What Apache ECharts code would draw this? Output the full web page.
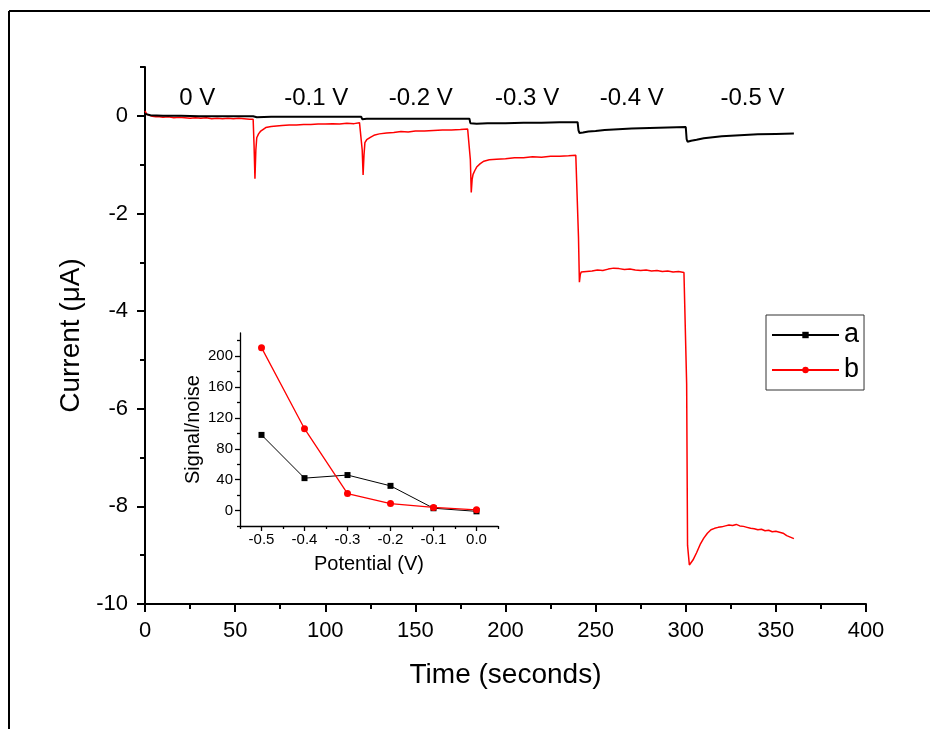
<!DOCTYPE html>
<html>
<head>
<meta charset="utf-8">
<script src="https://cdn.jsdelivr.net/npm/echarts@6/dist/echarts.min.js"></script>
<style>
html,body{margin:0;padding:0;background:#fff;}
#c{width:930px;height:729px;}
</style>
</head>
<body>
<div id="c"></div>
<script>
// ---- main chart data (time in s, current in µA) ----
const timeA = [0,1,3,10,20,30,40,50,60,60.5,61,62,70,80,90,100,110,120,120.5,121,123,130,140,150,160,170,180,180.5,181,184,190,200,210,220,230,240,240.5,241,243,246,250,255,260,270,280,290,300,300.5,301,303,306,310,315,320,330,340,350,360];
const currA = [0.04,0.02,0.01,0.0,0.0,-0.01,-0.01,-0.01,-0.01,-0.04,-0.05,-0.03,-0.02,-0.02,-0.02,-0.02,-0.02,-0.02,-0.07,-0.08,-0.06,-0.06,-0.06,-0.06,-0.06,-0.06,-0.06,-0.15,-0.17,-0.16,-0.15,-0.15,-0.14,-0.14,-0.13,-0.13,-0.30,-0.35,-0.34,-0.32,-0.31,-0.29,-0.28,-0.26,-0.25,-0.24,-0.23,-0.48,-0.53,-0.51,-0.49,-0.46,-0.44,-0.42,-0.40,-0.38,-0.37,-0.36];

const timeB = [0,0.5,1,2,4,6,8,10,13,16,19,22,25,28,31,34,37,40,43,46,49,52,55,58,60,
  60.5,61,61.5,62,63,64,65,67,70,73,76,80,84,88,92,96,100,104,108,112,116,119,120,
  120.5,121,121.5,122,123,125,127,130,134,138,142,146,150,155,160,165,170,175,179,180,
  180.5,181,181.5,182,183,184,186,188,191,195,200,205,210,215,220,225,230,235,239,240,
  240.5,241,241.5,242,245,248,251,254,257,260,263,266,269,272,275,278,281,284,287,290,293,296,299,300,
  300.5,301,302,303,304,306,308,310,312,314,316,318,320,322,324,326,328,330,332,334,336,338,340,342,344,346,348,350,352,354,355,356,357,358,360];
const currB = [0.1,0.08,0.03,0.0,-0.01,-0.02,-0.02,-0.03,-0.02,-0.04,-0.03,-0.04,-0.05,-0.04,-0.05,-0.04,-0.06,-0.05,-0.06,-0.05,-0.06,-0.05,-0.06,-0.07,-0.07,
  -0.6,-1.29,-0.7,-0.45,-0.37,-0.32,-0.28,-0.24,-0.22,-0.21,-0.2,-0.19,-0.19,-0.18,-0.18,-0.17,-0.17,-0.16,-0.17,-0.15,-0.16,-0.14,-0.15,
  -0.7,-1.21,-0.8,-0.55,-0.49,-0.44,-0.4,-0.37,-0.35,-0.34,-0.32,-0.33,-0.31,-0.31,-0.30,-0.29,-0.29,-0.28,-0.27,-0.27,
  -0.9,-1.57,-1.3,-1.2,-1.12,-1.05,-0.98,-0.93,-0.9,-0.89,-0.88,-0.86,-0.86,-0.84,-0.85,-0.83,-0.83,-0.82,-0.81,-0.82,
  -2.5,-3.41,-3.25,-3.2,-3.19,-3.18,-3.16,-3.17,-3.14,-3.12,-3.13,-3.15,-3.14,-3.16,-3.17,-3.16,-3.18,-3.17,-3.19,-3.18,-3.20,-3.19,-3.21,-3.20,
  -5.5,-8.8,-9.2,-9.22,-9.1,-8.95,-8.78,-8.65,-8.55,-8.48,-8.45,-8.43,-8.42,-8.40,-8.38,-8.39,-8.37,-8.40,-8.41,-8.43,-8.45,-8.46,-8.48,-8.47,-8.50,-8.49,-8.52,-8.51,-8.53,-8.55,-8.53,-8.60,-8.58,-8.63,-8.66];

// ---- step annotations ----
const stepLabels = ['0 V','-0.1 V','-0.2 V','-0.3 V','-0.4 V','-0.5 V'];
const stepLabelX = [29, 95, 153, 212, 270, 337];
const stepLabelY = 0.35;

// ---- main axis ticks ----
const mainYMajor = [-10,-8,-6,-4,-2,0];
const mainYMinor = [-9,-7,-5,-3,-1,1];

// ---- inset data ----
const potential = [-0.5,-0.4,-0.3,-0.2,-0.1,0.0];
const snA = [98,42,46,32,3,-1];
const snB = [211,106,22,9,4,1];
const insetYMajor = [0,40,80,120,160,200];
const insetYMinor = [-20,20,60,100,140,180,220];
const insetXMajor = [-0.5,-0.4,-0.3,-0.2,-0.1,0.0];
const insetXMinor = [-0.55,-0.45,-0.35,-0.25,-0.15,-0.05,0.05];

const zip = (xs, ys) => xs.map((x, i) => [x, ys[i]]);
const FONT = 'Liberation Sans';

const chart = echarts.init(document.getElementById('c'), null, {renderer: 'canvas'});
const axisLine = {show: true, onZero: false, lineStyle: {color: '#000', width: 2}};
const insetLine = {show: true, onZero: false, lineStyle: {color: '#000', width: 1.3}};

chart.setOption({
  backgroundColor: '#fff',
  animation: false,
  textStyle: {fontFamily: FONT},
  grid: [
    {left: 145, right: 64, top: 67, bottom: 125},
    {left: 240, right: 432, top: 333, bottom: 203}
  ],
  legend: {
    data: ['a', 'b'],
    orient: 'vertical',
    left: 766, top: 315,
    padding: [5, 5, 5, 5],
    itemGap: 5,
    itemWidth: 67, itemHeight: 8,
    borderColor: '#333', borderWidth: 1,
    textStyle: {fontFamily: FONT, fontSize: 27, color: '#000', lineHeight: 30},
    selectedMode: false
  },
  xAxis: [
    {gridIndex: 0, type: 'value', min: 0, max: 400, interval: 50, position: 'bottom',
     axisLine: axisLine,
     axisTick: {show: true, length: 8, inside: false, lineStyle: {width: 2, color: '#000'}},
     minorTick: {show: true, splitNumber: 2, length: 5, lineStyle: {width: 2, color: '#000'}},
     splitLine: {show: false},
     axisLabel: {fontSize: 22, color: '#000', margin: 16, fontFamily: FONT},
     name: 'Time (seconds)', nameLocation: 'middle', nameGap: 57,
     nameTextStyle: {fontSize: 28, color: '#000', fontFamily: FONT}},
    {gridIndex: 1, type: 'value', min: -0.55, max: 0.05, position: 'bottom',
     axisLine: insetLine,
     axisTick: {show: true, length: 5, customValues: insetXMajor, lineStyle: {width: 1.3, color: '#000'}},
     splitLine: {show: false},
     axisLabel: {fontSize: 15, color: '#000', margin: 6, customValues: insetXMajor, fontFamily: FONT,
                 formatter: v => v.toFixed(1)},
     name: 'Potential (V)', nameLocation: 'middle', nameGap: 28,
     nameTextStyle: {fontSize: 20, color: '#000', fontFamily: FONT}},
    {gridIndex: 1, type: 'value', min: -0.55, max: 0.05, position: 'bottom',
     axisLine: {show: false, onZero: false},
     axisTick: {show: true, length: 3, customValues: insetXMinor, lineStyle: {width: 1.3, color: '#000'}},
     splitLine: {show: false}, axisLabel: {show: false}}
  ],
  yAxis: [
    {gridIndex: 0, type: 'value', min: -10, max: 1, position: 'left',
     axisLine: axisLine,
     axisTick: {show: true, length: 8, customValues: mainYMajor, lineStyle: {width: 2, color: '#000'}},
     splitLine: {show: false},
     axisLabel: {fontSize: 22, color: '#000', margin: 17, customValues: mainYMajor, fontFamily: FONT},
     name: 'Current (\u03bcA)', nameLocation: 'middle', nameGap: 60,
     nameTextStyle: {fontSize: 28, color: '#000', fontFamily: FONT}},
    {gridIndex: 0, type: 'value', min: -10, max: 1, position: 'left',
     axisLine: {show: false, onZero: false},
     axisTick: {show: true, length: 5, customValues: mainYMinor, lineStyle: {width: 2, color: '#000'}},
     splitLine: {show: false}, axisLabel: {show: false}},
    {gridIndex: 1, type: 'value', min: -20, max: 230, position: 'left',
     axisLine: insetLine,
     axisTick: {show: true, length: 5, customValues: insetYMajor, lineStyle: {width: 1.3, color: '#000'}},
     splitLine: {show: false},
     axisLabel: {fontSize: 15, color: '#000', margin: 7, customValues: insetYMajor, fontFamily: FONT},
     name: 'Signal/noise', nameLocation: 'middle', nameGap: 37,
     nameTextStyle: {fontSize: 20, color: '#000', fontFamily: FONT}},
    {gridIndex: 1, type: 'value', min: -20, max: 230, position: 'left',
     axisLine: {show: false, onZero: false},
     axisTick: {show: true, length: 3, customValues: insetYMinor, lineStyle: {width: 1.3, color: '#000'}},
     splitLine: {show: false}, axisLabel: {show: false}}
  ],
  graphic: [
    {type: 'line', shape: {x1: 9, y1: 11, x2: 930, y2: 11}, style: {stroke: '#000', lineWidth: 2}},
    {type: 'line', shape: {x1: 9, y1: 11, x2: 9, y2: 729}, style: {stroke: '#000', lineWidth: 2}}
  ],
  series: [
    {name: 'curve a', type: 'line', xAxisIndex: 0, yAxisIndex: 0, data: zip(timeA, currA),
     showSymbol: false, lineStyle: {color: '#000', width: 2}, itemStyle: {color: '#000'}, z: 3, silent: true},
    {name: 'curve b', type: 'line', xAxisIndex: 0, yAxisIndex: 0, data: zip(timeB, currB),
     showSymbol: false, lineStyle: {color: '#ff0000', width: 1.5}, itemStyle: {color: '#ff0000'}, z: 2, silent: true},
    {name: 'steps', type: 'scatter', xAxisIndex: 0, yAxisIndex: 0, symbolSize: 0, silent: true,
     itemStyle: {color: '#000', opacity: 1},
     data: stepLabelX.map((x, i) => ({value: [x, stepLabelY], name: stepLabels[i]})),
     label: {show: true, position: 'inside', formatter: p => p.name, fontSize: 24, color: '#000',
             opacity: 1, textBorderWidth: 0, fontFamily: FONT}},
    {name: 'a', type: 'line', xAxisIndex: 1, yAxisIndex: 2, data: zip(potential, snA),
     symbol: 'rect', symbolSize: 6, showSymbol: true,
     lineStyle: {color: '#000', width: 1}, itemStyle: {color: '#000'}},
    {name: 'b', type: 'line', xAxisIndex: 1, yAxisIndex: 2, data: zip(potential, snB),
     symbol: 'circle', symbolSize: 7, showSymbol: true,
     lineStyle: {color: '#ff0000', width: 1.3}, itemStyle: {color: '#ff0000'}}
  ]
});
</script>
</body>
</html>
